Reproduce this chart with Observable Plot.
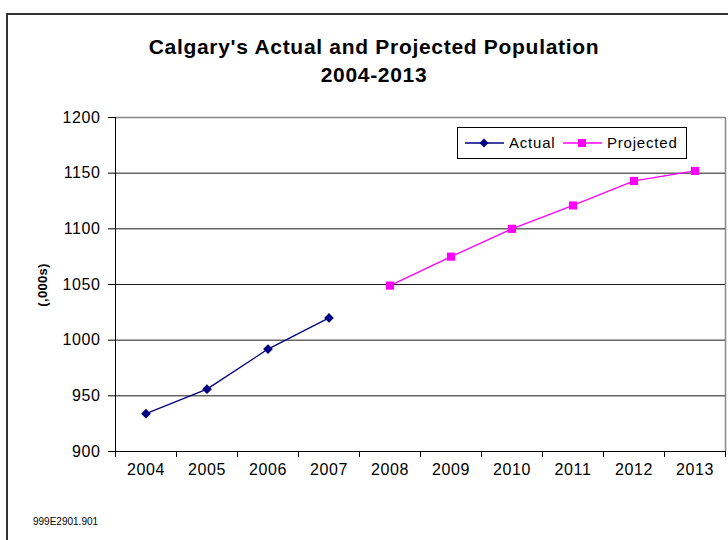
<!DOCTYPE html>
<html>
<head>
<meta charset="utf-8">
<script src="https://cdn.jsdelivr.net/npm/d3@7"></script>
<script src="https://cdn.jsdelivr.net/npm/@observablehq/plot@0.6"></script>
<style>
  html, body { margin: 0; padding: 0; background: #fff; overflow: hidden; }
  #wrap { position: relative; width: 728px; height: 540px; overflow: hidden; font-family: "Liberation Sans", Arial, sans-serif; }
  #border { position: absolute; left: 6px; top: 13px; width: 900px; height: 700px; border: 2px solid #333; box-sizing: border-box; }
  #title { position: absolute; left: 0; top: 33px; width: 748px; text-align: center; font-weight: bold; font-size: 21px; letter-spacing: 0.7px; line-height: 28px; color: #000; }
  #chart { position: absolute; left: 0; top: 100px; }
  #ylabel { position: absolute; left: 42px; top: 285px; transform: translate(-50%, -50%) rotate(-90deg); font-weight: bold; font-size: 13px; white-space: nowrap; letter-spacing: 0.3px; }
  #legend { position: absolute; left: 457px; top: 127px; width: 230px; height: 32px; box-sizing: border-box; border: 1px solid #000; background: #fff; font-size: 15px; letter-spacing: 0.8px; }
  #legend .item { position: absolute; top: 0; height: 30px; }
  #legend svg { position: absolute; left: 0; top: 0; }
  #legend span { position: absolute; top: 6px; white-space: nowrap; }
  #foot { position: absolute; left: 33px; top: 516px; font-size: 10px; }
</style>
</head>
<body>
<div id="wrap">
  <div id="border"></div>
  <div id="title">Calgary's Actual and Projected Population<br>2004-2013</div>
  <div id="chart"></div>
  <div id="ylabel">(,000s)</div>
  <div id="legend"></div>
  <div id="foot">999E2901.901</div>
</div>
<script>
const years = [2004, 2005, 2006, 2007, 2008, 2009, 2010, 2011, 2012, 2013];
const actualYears = [2004, 2005, 2006, 2007];
const actualValues = [934, 956, 992, 1020];
const projectedYears = [2008, 2009, 2010, 2011, 2012, 2013];
const projectedValues = [1049, 1075, 1100, 1121, 1143, 1152];
const yTicks = [900, 950, 1000, 1050, 1100, 1150, 1200];
const seriesNames = ["Actual", "Projected"];
const seriesColors = ["#000080", "#FF00FF"];

const actual = actualYears.map((y, i) => ({year: y, value: actualValues[i]}));
const projected = projectedYears.map((y, i) => ({year: y, value: projectedValues[i]}));
const boundaries = years.map(y => y - 0.5).concat([years[years.length - 1] + 0.5]);
const yMin = yTicks[0], yMax = yTicks[yTicks.length - 1];

const plot = Plot.plot({
  width: 728,
  height: 440,
  marginLeft: 115,
  marginRight: 3,
  marginTop: 17,
  marginBottom: 89,
  style: {fontFamily: "'Liberation Sans', Arial, sans-serif", fontSize: "16px", letterSpacing: "0.6px", color: "#000", background: "transparent", overflow: "visible"},
  x: {domain: [boundaries[0], boundaries[boundaries.length - 1]], label: null},
  y: {domain: [yMin, yMax], label: null},
  marks: [
    Plot.ruleY(yTicks.slice(1, -1), {stroke: "#1a1a1a", strokeWidth: 1}),
    Plot.ruleY([yMax], {stroke: "#888", strokeWidth: 1.5}),
    Plot.ruleX([boundaries[boundaries.length - 1]], {stroke: "#888", strokeWidth: 1.5}),
    Plot.ruleY([yMin], {stroke: "#000", strokeWidth: 1}),
    Plot.ruleX([boundaries[0]], {stroke: "#000", strokeWidth: 1}),
    Plot.axisY({ticks: yTicks, tickSize: 7, tickPadding: 8, tickFormat: d => String(d), stroke: "#000"}),
    Plot.axisX({ticks: years, tickSize: 0, tickPadding: 12, tickFormat: d => String(d)}),
    Plot.axisX({ticks: boundaries, tickSize: 6, tickFormat: () => "", stroke: "#000"}),
    Plot.line(actual, {x: "year", y: "value", stroke: seriesColors[0], strokeWidth: 1.3}),
    Plot.dot(actual, {x: "year", y: "value", symbol: "diamond2", r: 4.4, fill: seriesColors[0], stroke: "none"}),
    Plot.line(projected, {x: "year", y: "value", stroke: seriesColors[1], strokeWidth: 1.3}),
    Plot.dot(projected, {x: "year", y: "value", symbol: "square", r: 4.6, fill: seriesColors[1], stroke: "none"})
  ]
});
document.getElementById("chart").appendChild(plot);

// Legend
const legend = document.getElementById("legend");
const itemLeft = [7, 105];
seriesNames.forEach((name, i) => {
  const item = document.createElement("div");
  item.className = "item";
  item.style.left = itemLeft[i] + "px";
  const marker = i === 0
    ? `<path d="M19,10.5 L23.5,15 L19,19.5 L14.5,15 Z" fill="${seriesColors[i]}"/>`
    : `<rect x="15" y="11" width="8" height="8" fill="${seriesColors[i]}"/>`;
  item.innerHTML = `<svg width="39" height="30"><line x1="0" y1="15" x2="39" y2="15" stroke="${seriesColors[i]}" stroke-width="1.3"/>${marker}</svg><span style="left:44px">${name}</span>`;
  legend.appendChild(item);
});
</script>
</body>
</html>
